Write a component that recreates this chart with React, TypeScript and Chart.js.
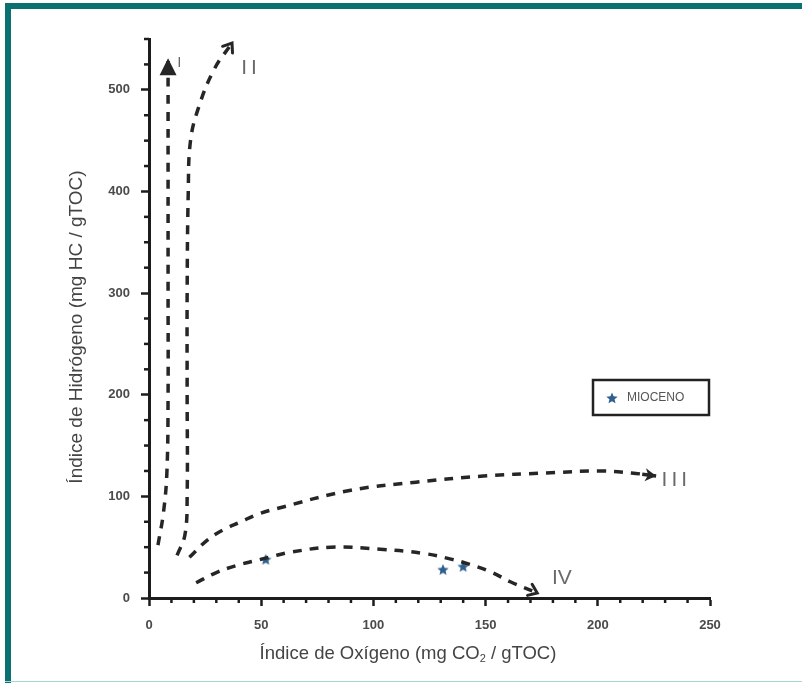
import React, { useEffect, useRef } from 'react';
import { Chart, registerables } from 'chart.js';
Chart.register(...registerables);

// Curve I (Type I kerogen)
const curveI_OI = [4, 6.5, 8, 8.5, 8.5, 8.5, 8.5, 8.5];
const curveI_HI = [52, 85, 125, 200, 300, 400, 500, 531];
// Curve II
const curveII_OI = [12.5, 16, 17, 17, 17, 17.5, 18.5, 22, 29, 37];
const curveII_HI = [42, 62, 100, 200, 300, 400, 450, 482, 520, 546];
// Curve III
const curveIII_OI = [18, 26, 33, 41, 48, 57, 90, 119, 149, 177, 201, 215, 226];
const curveIII_HI = [40, 57, 67, 75, 82, 88, 106, 114, 120, 123, 125, 123, 120];
// Curve IV
const curveIV_OI = [21, 30, 39, 48, 55, 63, 81, 103, 122, 135, 143, 153, 161, 173];
const curveIV_HI = [15, 25, 32, 37, 41, 45, 50, 48, 44, 38, 33, 25, 16, 5];
// Samples
const miocenoOI = [52, 131, 140];
const miocenoHI = [38, 28, 31];
const miocenoLabel = 'MIOCENO';

const curveLabels = ['I', 'II', 'III', 'IV'];
const curveLabelOI = [13.5, 45.5, 235, 184];
const curveLabelHI = [527, 521, 116, 19];

const xTitleA = 'Índice de Oxígeno (mg CO';
const xTitleSub = '2';
const xTitleB = ' / gTOC)';
const yTitle = 'Índice de Hidrógeno (mg HC / gTOC)';

const xMin = 0, xMax = 250, yMin = 0, yMax = 550;
const xMajorStep = 50, xMinorStep = 10, yMajorStep = 100, yMinorStep = 25;

const STAR_COLOR = '#2f5f8f';
const LINE_COLOR = '#262626';
const AXIS_COLOR = '#1c1c1c';
const FONT = '"Liberation Sans", Arial, sans-serif';

function makeStar(size: number, color: string) {
  const c = document.createElement('canvas');
  c.width = size; c.height = size;
  const ctx = c.getContext('2d')!;
  ctx.fillStyle = color;
  ctx.beginPath();
  const cx = size / 2, cy = size / 2 + 0.5, R = size / 2, r = R * 0.45;
  for (let i = 0; i < 10; i++) {
    const a = -Math.PI / 2 + (i * Math.PI) / 5;
    const rad = i % 2 === 0 ? R : r;
    ctx.lineTo(cx + rad * Math.cos(a), cy + rad * Math.sin(a));
  }
  ctx.closePath();
  ctx.fill();
  return c;
}

function pts(xs: number[], ys: number[]) {
  return xs.map((x, i) => ({ x, y: ys[i] }));
}

function drawArrow(ctx: CanvasRenderingContext2D, x1: number, y1: number, x2: number, y2: number, style: string) {
  const ang = Math.atan2(y2 - y1, x2 - x1);
  ctx.save();
  ctx.translate(x2, y2);
  ctx.rotate(ang);
  ctx.fillStyle = LINE_COLOR;
  ctx.strokeStyle = LINE_COLOR;
  if (style === 'triangle') {
    ctx.beginPath();
    ctx.moveTo(0, 0);
    ctx.lineTo(-17, -8.5);
    ctx.lineTo(-17, 8.5);
    ctx.closePath();
    ctx.fill();
  } else if (style === 'notched') {
    ctx.beginPath();
    ctx.moveTo(0, 0);
    ctx.lineTo(-11, -6.5);
    ctx.lineTo(-8, 0);
    ctx.lineTo(-11, 6.5);
    ctx.closePath();
    ctx.fill();
    ctx.lineWidth = 3.5;
    ctx.beginPath();
    ctx.moveTo(-14, 0);
    ctx.lineTo(-6, 0);
    ctx.stroke();
  } else {
    ctx.lineWidth = 3;
    ctx.lineCap = 'round';
    ctx.lineJoin = 'miter';
    ctx.beginPath();
    ctx.moveTo(-8, -6);
    ctx.lineTo(0, 0);
    ctx.lineTo(-8, 6);
    ctx.stroke();
  }
  ctx.restore();
}

const arrowStyles = ['triangle', 'open', 'notched', 'open'];

export default function App() {
  const ref = useRef<HTMLCanvasElement>(null);
  useEffect(() => {
    document.body.style.margin = '0';
    const star = makeStar(12, STAR_COLOR);
    const curveDs = (data: { x: number; y: number }[]) => ({
      type: 'line' as const,
      data,
      showLine: true,
      borderColor: LINE_COLOR,
      borderWidth: 3.5,
      borderDash: [9, 8],
      tension: 0.4,
      pointRadius: 0,
      fill: false,
      clip: false as any,
    });

    const overlay = {
      id: 'overlay',
      afterDraw(chart: any) {
        const ctx: CanvasRenderingContext2D = chart.ctx;
        const xs = chart.scales.x, ys = chart.scales.y;
        const area = chart.chartArea;
        // minor ticks
        ctx.save();
        ctx.strokeStyle = AXIS_COLOR;
        ctx.lineWidth = 2.5;
        for (let v = xMin; v <= xMax; v += xMinorStep) {
          if (v % xMajorStep === 0) continue;
          const px = xs.getPixelForValue(v);
          ctx.beginPath();
          ctx.moveTo(px, area.bottom);
          ctx.lineTo(px, area.bottom + 5);
          ctx.stroke();
        }
        for (let v = yMin; v <= yMax; v += yMinorStep) {
          if (v % yMajorStep === 0) continue;
          const py = ys.getPixelForValue(v);
          ctx.beginPath();
          ctx.moveTo(area.left, py);
          ctx.lineTo(area.left - 5, py);
          ctx.stroke();
        }
        ctx.restore();

        // arrows
        for (let d = 0; d < 4; d++) {
          const meta = chart.getDatasetMeta(d);
          const n = meta.data.length;
          const last = meta.data[n - 1];
          const prev = meta.data[n - 2];
          let sx = prev.x, sy = prev.y;
          if (last.cp1x !== undefined && Math.hypot(last.cp1x - last.x, last.cp1y - last.y) > 1) {
            sx = last.cp1x; sy = last.cp1y;
          }
          drawArrow(ctx, sx, sy, last.x, last.y, arrowStyles[d]);
        }

        // curve labels
        ctx.save();
        ctx.fillStyle = '#6a6a6a';
        ctx.textAlign = 'center';
        ctx.textBaseline = 'middle';
        curveLabels.forEach((t, i) => {
          const px = xs.getPixelForValue(curveLabelOI[i]);
          const py = ys.getPixelForValue(curveLabelHI[i]);
          ctx.font = (i === 0 ? '15px ' : '21px ') + FONT;
          (ctx as any).letterSpacing = t === 'II' || t === 'III' ? '4px' : '0px';
          ctx.fillText(t, px, py);
        });
        (ctx as any).letterSpacing = '0px';
        ctx.restore();

        // legend box
        ctx.save();
        ctx.strokeStyle = '#222';
        ctx.lineWidth = 2.5;
        ctx.strokeRect(593, 380, 116, 35);
        ctx.drawImage(star, 606, 392);
        ctx.fillStyle = '#555';
        ctx.font = '12px ' + FONT;
        ctx.textBaseline = 'middle';
        ctx.textAlign = 'left';
        ctx.fillText(miocenoLabel, 627, 398);
        ctx.restore();

        // x title with subscript
        ctx.save();
        ctx.fillStyle = '#444';
        ctx.textBaseline = 'alphabetic';
        ctx.textAlign = 'left';
        ctx.font = '18.5px ' + FONT;
        const wA = ctx.measureText(xTitleA).width;
        ctx.font = '11px ' + FONT;
        const wS = ctx.measureText(xTitleSub).width;
        ctx.font = '18.5px ' + FONT;
        const wB = ctx.measureText(xTitleB).width;
        const total = wA + wS + wB;
        const x0 = 408 - total / 2;
        const base = 659;
        ctx.fillText(xTitleA, x0, base);
        ctx.font = '11px ' + FONT;
        ctx.fillText(xTitleSub, x0 + wA, base + 3);
        ctx.font = '18.5px ' + FONT;
        ctx.fillText(xTitleB, x0 + wA + wS, base);
        ctx.restore();

        // y title
        ctx.save();
        ctx.fillStyle = '#444';
        ctx.font = '19px ' + FONT;
        ctx.textAlign = 'center';
        ctx.textBaseline = 'middle';
        ctx.translate(77, 327);
        ctx.rotate(-Math.PI / 2);
        ctx.fillText(yTitle, 0, 0);
        ctx.restore();
      },
    };

    const chart = new Chart(ref.current!, {
      type: 'scatter',
      data: {
        datasets: [
          curveDs(pts(curveI_OI, curveI_HI)),
          curveDs(pts(curveII_OI, curveII_HI)),
          curveDs(pts(curveIII_OI, curveIII_HI)),
          curveDs(pts(curveIV_OI, curveIV_HI)),
          {
            type: 'scatter',
            label: miocenoLabel,
            data: pts(miocenoOI, miocenoHI),
            pointStyle: star as any,
            pointRadius: 6,
            showLine: false,
          } as any,
        ],
      },
      options: {
        responsive: false,
        animation: false,
        layout: { padding: { left: 66, right: 92, top: 39, bottom: 0 } },
        plugins: { legend: { display: false }, tooltip: { enabled: false } },
        scales: {
          x: {
            type: 'linear',
            min: xMin,
            max: xMax,
            afterFit: (s: any) => { s.height = 85; },
            ticks: {
              stepSize: xMajorStep,
              includeBounds: false,
              padding: 12,
              color: '#4a4a4a',
              font: { family: FONT, size: 13, weight: 'bold' },
            },
            grid: {
              drawOnChartArea: false,
              drawTicks: true,
              tickLength: 8,
              tickColor: AXIS_COLOR,
              tickWidth: 2.5,
            },
            border: { display: true, color: AXIS_COLOR, width: 3 },
            title: { display: false },
          },
          y: {
            type: 'linear',
            min: yMin,
            max: yMax,
            afterFit: (s: any) => { s.width = 83; },
            ticks: {
              stepSize: yMajorStep,
              includeBounds: false,
              padding: 11,
              color: '#4a4a4a',
              font: { family: FONT, size: 13, weight: 'bold' },
            },
            grid: {
              drawOnChartArea: false,
              drawTicks: true,
              tickLength: 8,
              tickColor: AXIS_COLOR,
              tickWidth: 2.5,
            },
            border: { display: true, color: AXIS_COLOR, width: 3 },
            title: { display: false },
          },
        },
      },
      plugins: [overlay],
    } as any);
    return () => chart.destroy();
  }, []);

  return (
    <div style={{ position: 'relative', width: 802, height: 683, background: '#fff', overflow: 'hidden' }}>
      <canvas ref={ref} width={802} height={683} style={{ position: 'absolute', left: 0, top: 0, width: 802, height: 683 }} />
      <div style={{ position: 'absolute', left: 5, top: 3, width: 797, height: 6, background: '#0a7070' }} />
      <div style={{ position: 'absolute', left: 5, top: 3, width: 6, height: 680, background: '#0a7070' }} />
      <div style={{ position: 'absolute', left: 5, top: 681, width: 797, height: 1, background: '#a6d6d6' }} />
    </div>
  );
}
